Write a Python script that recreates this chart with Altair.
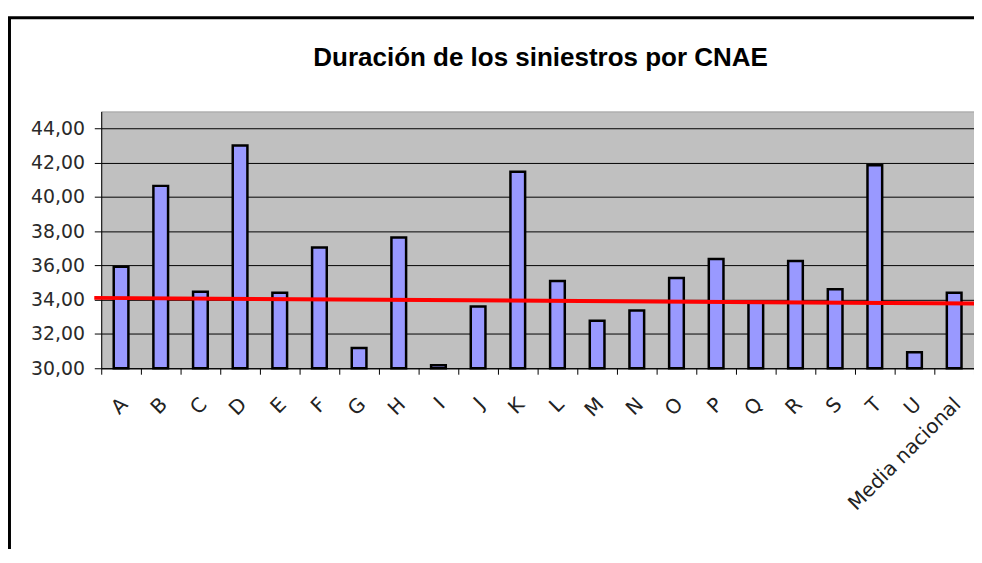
import altair as alt
import pandas as pd

# ---- data ----
categories = ["A", "B", "C", "D", "E", "F", "G", "H", "I", "J", "K",
              "L", "M", "N", "O", "P", "Q", "R", "S", "T", "U", "Media nacional"]
values = [35.92, 40.65, 34.47, 43.01, 34.41, 37.05, 31.18, 37.64, 30.18, 33.60, 41.48,
          35.10, 32.78, 33.37, 35.27, 36.38, 33.85, 36.26, 34.62, 41.86, 30.93, 34.41]
trend_start = [34.11]
trend_end = [33.78]
y_ticks = [30, 32, 34, 36, 38, 40, 42, 44]
title_text = ["Duración de los siniestros por CNAE"]

W = 880
H = 259

bars_df = pd.DataFrame({"cat": categories, "val": values})
trend_df = pd.DataFrame({"val": trend_start, "val2": trend_end})
title_df = pd.DataFrame({"t": title_text})
frame_df = pd.DataFrame({"k": [0]})

y_scale = alt.Scale(domain=[30, 45], nice=False, zero=False)

y_axis = alt.Axis(
    title=None, values=y_ticks, labelOverlap=False, tickCount=8,
    labelExpr="replace(format(datum.value, '.2f'), '.', ',')",
    grid=True, gridColor="black", gridWidth=1, tickSize=7,
    tickColor="black", domainColor="black", labelPadding=10,
    labelFont="DejaVu Sans", labelFontSize=19, labelColor="#2a2a2a",
)

x_enc = alt.X(
    "cat:N", sort=categories,
    scale=alt.Scale(paddingInner=0, paddingOuter=0),
    axis=alt.Axis(
        title=None, labelAngle=-45, labelAlign="right", labelBaseline="middle",
        labelPadding=27, labelOffset=3, tickBand="extent", tickSize=6,
        tickColor="black", domainColor="black", domainWidth=1,
        labelFont="DejaVu Sans", labelFontSize=20, labelColor="#222222",
        labelOverlap=False, grid=False,
    ),
)

frame = alt.Chart(frame_df).mark_rect(
    fillOpacity=0, stroke="black", strokeWidth=3
).encode(
    x=alt.value(-92.5), x2=alt.value(W + 200),
    y=alt.value(-94.5), y2=alt.value(H + 400),
)

bars = alt.Chart(bars_df).mark_bar(
    width=alt.RelativeBandSize(0.37), fill="#9999FF", stroke="black", strokeWidth=2.5
).encode(
    x=x_enc,
    y=alt.Y("val:Q", scale=y_scale, axis=y_axis),
    y2=alt.datum(30),
)

trend = alt.Chart(trend_df).mark_rule(color="#FF0000", strokeWidth=4).encode(
    x=alt.value(-7), x2=alt.value(W),
    y=alt.Y("val:Q", scale=y_scale, axis=y_axis), y2="val2:Q",
)

title = alt.Chart(title_df).mark_text(
    font="Liberation Sans", fontWeight="bold", fontSize=26.2,
    baseline="alphabetic", align="center", color="black",
).encode(text="t:N", x=alt.value(W / 2 + 3), y=alt.value(-45.5))

chart = alt.layer(bars, frame, trend, title).properties(
    width=W, height=H,
    padding={"left": 94, "top": 102, "right": 0, "bottom": 180},
    autosize=alt.AutoSizeParams(type="none"),
    background="white",
).configure_view(fill="#C0C0C0", stroke="#A0A0A0", strokeWidth=1)

chart.save("out.html", embed_options={"renderer": "svg", "actions": False})
